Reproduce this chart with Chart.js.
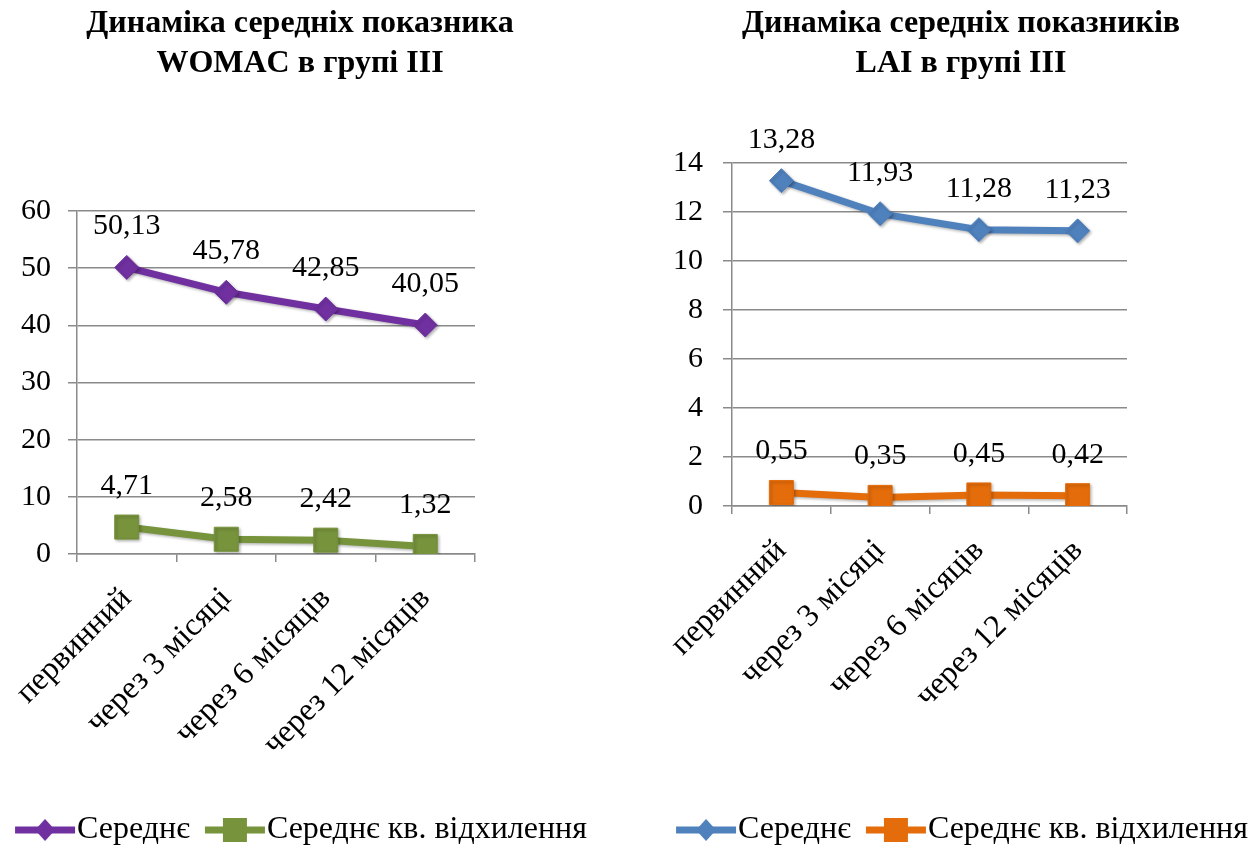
<!DOCTYPE html>
<html>
<head>
<meta charset="utf-8">
<script src="https://cdn.jsdelivr.net/npm/chart.js@4/dist/chart.umd.min.js"></script>
<style>
  html, body { margin: 0; padding: 0; background: #fff; overflow: hidden; }
  #wrap { position: relative; width: 1256px; height: 849px; overflow: hidden; }
  canvas { position: absolute; top: 0; }
  #womac { left: 0; }
  #lai { left: 628px; }
</style>
</head>
<body>
<div id="wrap">
  <canvas id="womac" width="628" height="856"></canvas>
  <canvas id="lai" width="638" height="856"></canvas>
</div>
<script>
// Observation points
const periods = ['первинний', 'через 3 місяці', 'через 6 місяців', 'через 12 місяців'];

// WOMAC, group III
const womacMean = [50.13, 45.78, 42.85, 40.05];
const womacSd = [4.71, 2.58, 2.42, 1.32];

// LAI, group III
const laiMean = [13.28, 11.93, 11.28, 11.23];
const laiSd = [0.55, 0.35, 0.45, 0.42];

const seriesNames = ['Середнє', 'Середнє кв. відхилення'];
const womacTitle = ['Динаміка середніх показника', 'WOMAC в групі III'];
const laiTitle = ['Динаміка середніх показників', 'LAI в групі III'];

// Value axis ranges
const womacAxis = { max: 60, step: 10 };
const laiAxis = { max: 14, step: 2 };

const FONT = '"Liberation Serif", "Times New Roman", serif';
const GRID = '#8a8a8a';

// Legend swatch: a short line with the series marker in the middle
function legendIcon(color, shape) {
  const c = document.createElement('canvas');
  c.width = 80; c.height = 30;
  const g = c.getContext('2d');
  g.strokeStyle = color;
  g.lineWidth = 7;
  g.beginPath();
  g.moveTo(18, 15);
  g.lineTo(78, 15);
  g.stroke();
  g.fillStyle = color;
  g.beginPath();
  if (shape === 'diamond') {
    g.moveTo(48, 4); g.lineTo(58, 15); g.lineTo(48, 26); g.lineTo(38, 15);
  } else {
    g.rect(36, 3, 24, 24);
  }
  g.closePath();
  g.fill();
  return c;
}

// Soft drop shadow under lines and markers
const markerShadow = {
  id: 'markerShadow',
  beforeDatasetsDraw(chart) {
    const ctx = chart.ctx;
    ctx.save();
    ctx.shadowColor = 'rgba(0,0,0,0.3)';
    ctx.shadowBlur = 3;
    ctx.shadowOffsetX = 1.5;
    ctx.shadowOffsetY = 1.5;
  },
  afterDatasetsDraw(chart) {
    chart.ctx.restore();
  }
};

// Value labels above every point, with a decimal comma
const valueLabels = {
  id: 'valueLabels',
  afterDatasetsDraw(chart) {
    const ctx = chart.ctx;
    ctx.save();
    ctx.font = '30px ' + FONT;
    ctx.fillStyle = '#000';
    ctx.textAlign = 'center';
    ctx.textBaseline = 'middle';
    chart.data.datasets.forEach((ds, i) => {
      chart.getDatasetMeta(i).data.forEach((pt, j) => {
        ctx.fillText(ds.data[j].toFixed(2).replace('.', ','), pt.x, pt.y - 41);
      });
    });
    ctx.restore();
  }
};

function buildChart(id, title, mean, sd, colors, axis, geom) {
  const icons = [legendIcon(colors[0], 'diamond'), legendIcon(colors[1], 'square')];
  return new Chart(document.getElementById(id), {
    type: 'line',
    data: {
      labels: periods,
      datasets: [
        {
          label: seriesNames[0], data: mean,
          borderColor: colors[0], backgroundColor: colors[0],
          borderWidth: 7, tension: 0,
          pointStyle: 'rectRot', pointRadius: 12, pointBorderWidth: 1,
          pointBackgroundColor: colors[0], pointBorderColor: colors[0]
        },
        {
          label: seriesNames[1], data: sd,
          borderColor: colors[1], backgroundColor: colors[1],
          borderWidth: 7, tension: 0,
          pointStyle: 'rect', pointRadius: 17, pointBorderWidth: 1,
          pointBackgroundColor: colors[1], pointBorderColor: colors[1]
        }
      ]
    },
    options: {
      responsive: false,
      animation: false,
      devicePixelRatio: 1,
      events: [],
      layout: { padding: { left: geom.padL, right: geom.padR, top: 0, bottom: 0 } },
      plugins: {
        title: {
          display: true, text: title, color: '#000',
          font: { family: FONT, size: 32, weight: 'bold', lineHeight: 40 / 32 },
          padding: { top: 4, bottom: geom.titleGap }
        },
        legend: {
          position: 'bottom',
          labels: {
            usePointStyle: true, pointStyleWidth: 48, boxHeight: 28,
            padding: 13, color: '#000',
            font: { family: FONT, size: 32 },
            generateLabels: (chart) => chart.data.datasets.map((ds, i) => ({
              text: ds.label, pointStyle: icons[i], fillStyle: ds.borderColor,
              strokeStyle: ds.borderColor, lineWidth: 0, hidden: false, datasetIndex: i
            }))
          }
        },
        tooltip: { enabled: false }
      },
      scales: {
        x: {
          offset: true,
          grid: { offset: true, drawOnChartArea: false, drawTicks: true, tickLength: 8, color: GRID, lineWidth: 1.5 },
          border: { color: GRID, width: 1.5 },
          ticks: { minRotation: 45, maxRotation: 45, color: '#000', padding: 18, font: { family: FONT, size: 32 } },
          afterFit: (s) => { s.height = geom.xHeight; s.paddingLeft = 0; s.paddingRight = 0; }
        },
        y: {
          min: 0, max: axis.max,
          ticks: { stepSize: axis.step, color: '#000', padding: geom.yPad, font: { family: FONT, size: 30 } },
          grid: { color: GRID, lineWidth: 1.5, tickLength: 9 },
          border: { color: GRID, width: 1.5 },
          afterFit: (s) => { s.width = geom.yWidth; }
        },
        // empty space to the right of the plot
        spacer: {
          position: 'right', display: true,
          grid: { display: false }, ticks: { display: false }, border: { display: false },
          afterFit: (s) => { s.width = geom.spacer; }
        }
      }
    },
    plugins: [markerShadow, valueLabels]
  });
}

buildChart('womac', womacTitle, womacMean, womacSd, ['#7030A0', '#77933C'], womacAxis,
  { padL: 0, padR: 28, titleGap: 127, xHeight: 247, yWidth: 77, yPad: 17, spacer: 125 });

buildChart('lai', laiTitle, laiMean, laiSd, ['#4F81BD', '#E46C0A'], laiAxis,
  { padL: 28, padR: 0, titleGap: 79, xHeight: 295, yWidth: 76, yPad: 20, spacer: 139 });
</script>
</body>
</html>
